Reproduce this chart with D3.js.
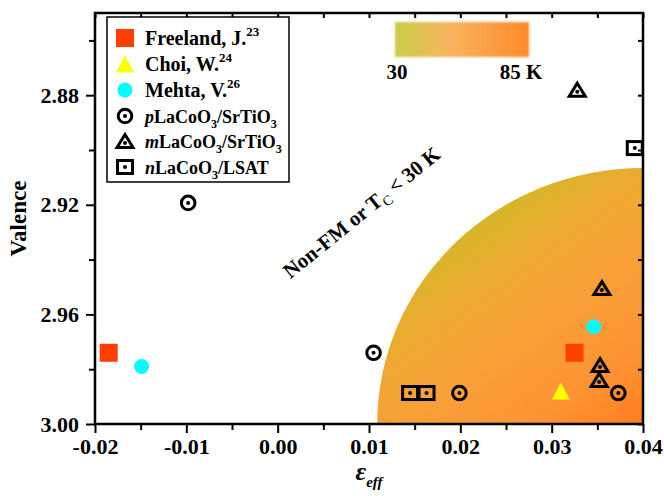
<!DOCTYPE html>
<html><head><meta charset="utf-8">
<script src="https://cdn.jsdelivr.net/npm/d3@7"></script>
<style>
body{margin:0;background:#fff;}
svg{display:block;font-family:"Liberation Serif","Times New Roman",serif;font-weight:bold;}
</style></head>
<body><svg id="c" width="664" height="496"></svg>
<script>
// ---- data ----
const freeland = [[-0.0185, 2.974], [0.0325, 2.974]];
const choi = [[0.031, 2.988]];
const mehta = [[-0.0149, 2.979], [0.0346, 2.9645]];
const pLCO = [[-0.0098, 2.9193], [0.0105, 2.974], [0.0199, 2.9887], [0.0373, 2.9887]];
const mLCO = [[0.0328, 2.878], [0.0355, 2.9504], [0.0353, 2.9785], [0.0352, 2.9839]];
const nLCO = [[0.0145, 2.9887], [0.0163, 2.9887], [0.0391, 2.8993]];
const xMajor = [-0.02, -0.01, 0.00, 0.01, 0.02, 0.03, 0.04];
const xMinor = [-0.015, -0.005, 0.005, 0.015, 0.025, 0.035];
const yMajor = [2.88, 2.92, 2.96, 3.00];
const yMinor = [2.86, 2.90, 2.94, 2.98];
const region = {x0: 0.0109, yTop: 2.9066, xc: 0.04, yc: 3.00};
const cbarLabels = ["30", "85 K"];

const svg = d3.select("#c");
const x = d3.scaleLinear().domain([-0.02, 0.04]).range([95, 643]);
const y = d3.scaleLinear().domain([2.85, 3.00]).range([13, 424]);
const fmt = d => d3.format(".2f")(d).replace("\u2212","-");

const defs = svg.append("defs");
const g1 = defs.append("linearGradient").attr("id","rg")
  .attr("x1","0.15").attr("y1","0").attr("x2","0.9").attr("y2","1");
[[0,"#c6bf22"],[0.2,"#d2b827"],[0.4,"#ecaa31"],[0.6,"#f9a038"],[0.85,"#fd9232"],[1,"#ff8020"]]
  .forEach(s=>g1.append("stop").attr("offset",s[0]).attr("stop-color",s[1]));
const g2 = defs.append("linearGradient").attr("id","cb");
[[0,"#c9cd48"],[0.4,"#f8b460"],[1,"#ff8a2a"]]
  .forEach(s=>g2.append("stop").attr("offset",s[0]).attr("stop-color",s[1]));
defs.append("filter").attr("id","bl").append("feGaussianBlur").attr("stdDeviation",1);
defs.append("clipPath").attr("id","clip").append("rect")
  .attr("x",x(-0.02)).attr("y",y(2.85)).attr("width",x(0.04)-x(-0.02)).attr("height",y(3.0)-y(2.85));

// quarter-ellipse region
const cx = x(region.xc), cy = y(region.yc);
const rx = cx - x(region.x0), ry = cy - y(region.yTop);
svg.append("g").attr("clip-path","url(#clip)").append("path")
  .attr("d",`M${cx-rx},${cy} A${rx},${ry} 0 0 1 ${cx},${cy-ry} L${cx+5},${cy-ry} L${cx+5},${cy+5} L${cx-rx},${cy+5}Z`)
  .attr("fill","url(#rg)");

// colorbar
svg.append("rect").attr("x",395).attr("y",22).attr("width",134).attr("height",35)
  .attr("fill","url(#cb)").attr("filter","url(#bl)");
svg.append("text").attr("x",397).attr("y",79).attr("text-anchor","middle").attr("font-size",21).text(cbarLabels[0]);
svg.append("text").attr("x",521).attr("y",79).attr("text-anchor","middle").attr("font-size",21).text(cbarLabels[1]);

// axes
const tk = sel => sel.call(g=>g.select(".domain").remove())
  .call(g=>g.selectAll("line").attr("stroke","#000").attr("stroke-width",2))
  .call(g=>g.selectAll("text").attr("font-family","Liberation Serif").attr("font-weight","bold").attr("font-size",22).attr("fill","#000"));
svg.append("g").attr("transform",`translate(0,${y(3.0)})`)
  .call(d3.axisBottom(x).tickValues(xMajor).tickSize(9).tickPadding(5).tickFormat(fmt)).call(tk);
svg.append("g").attr("transform",`translate(0,${y(3.0)})`)
  .call(d3.axisBottom(x).tickValues(xMinor).tickSize(6).tickFormat("")).call(tk);
svg.append("g").attr("transform",`translate(${x(-0.02)},0)`)
  .call(d3.axisLeft(y).tickValues(yMajor).tickSize(9).tickPadding(7).tickFormat(fmt)).call(tk);
svg.append("g").attr("transform",`translate(${x(-0.02)},0)`)
  .call(d3.axisLeft(y).tickValues(yMinor).tickSize(6).tickFormat("")).call(tk);
svg.append("g").attr("transform",`translate(0,${y(2.85)})`)
  .call(d3.axisBottom(x).tickValues(xMajor.concat(xMinor)).tickSize(5).tickFormat("")).call(tk);
svg.append("g").attr("transform",`translate(${x(0.04)},0)`)
  .call(d3.axisLeft(y).tickValues(yMajor.concat(yMinor)).tickSize(5).tickFormat("")).call(tk);
svg.append("rect").attr("x",x(-0.02)).attr("y",y(2.85)).attr("width",x(0.04)-x(-0.02)).attr("height",y(3.0)-y(2.85))
  .attr("fill","none").attr("stroke","#000").attr("stroke-width",2.5);

// axis titles
svg.append("text").attr("transform",`translate(26,${(y(2.85)+y(3.0))/2}) rotate(-90)`)
  .attr("text-anchor","middle").attr("font-size",23).text("Valence");
const xt = svg.append("text").attr("x",(x(-0.02)+x(0.04))/2).attr("y",480).attr("text-anchor","middle").attr("font-style","italic");
xt.append("tspan").attr("font-size",26).text("ε");
xt.append("tspan").attr("font-size",15).attr("dy",7).text("eff");

// annotation
const ann = svg.append("text").attr("transform","translate(366,218) rotate(-39)").attr("text-anchor","middle").attr("font-size",21);
ann.append("tspan").text("Non-FM or T");
ann.append("tspan").attr("font-size",14).attr("font-weight","normal").attr("dy",5).text("C");
ann.append("tspan").attr("dy",-5).text(" < 30 K");

// marker drawers
function sq(g,fill,w,h,sw){g.append("rect").attr("x",-w/2).attr("y",-h/2).attr("width",w).attr("height",h).attr("fill",fill).attr("stroke",sw?"#000":"none").attr("stroke-width",sw||0);}
function tri(g,fill,w,h,sw){g.append("path").attr("d",`M0,${-h/2}L${w/2},${h/2}L${-w/2},${h/2}Z`).attr("fill",fill).attr("stroke",sw?"#000":"none").attr("stroke-width",sw||0).attr("stroke-linejoin","miter");}
function dot(g,dy){g.append("circle").attr("cy",dy||0).attr("r",2).attr("fill","#000");}
const draw = {
  freeland: g=>sq(g,"#ff3f00",18,18),
  choi: g=>tri(g,"#ffff00",18,17),
  mehta: g=>g.append("circle").attr("r",7.5).attr("fill","#00ffff"),
  p: g=>{g.append("circle").attr("r",6.8).attr("fill","none").attr("stroke","#000").attr("stroke-width",3);dot(g);},
  m: g=>{tri(g,"none",16,13,3);dot(g,2);},
  n: g=>{sq(g,"none",15,13,3);dot(g);}
};
const series = [[freeland,"freeland"],[choi,"choi"],[mehta,"mehta"],[pLCO,"p"],[mLCO,"m"],[nLCO,"n"]];
const pts = svg.append("g");
series.forEach(([data,k])=>{
  pts.selectAll(null).data(data).join("g")
    .attr("transform",d=>`translate(${x(d[0])},${y(d[1])})`)
    .each(function(){draw[k](d3.select(this));});
});

// legend
svg.append("rect").attr("x",107).attr("y",17).attr("width",182).attr("height",165)
  .attr("fill","#fff").attr("stroke","#000").attr("stroke-width",1.5);
const legRows = [
  {k:"freeland", parts:[["Freeland, J.",20],["23",13,"sup"]]},
  {k:"choi", parts:[["Choi, W.",20],["24",13,"sup"]]},
  {k:"mehta", parts:[["Mehta, V.",20],["26",13,"sup"]]},
  {k:"p", parts:[["p",18,"it"],["LaCoO",18],["3",12,"sub"],["/SrTiO",18],["3",12,"sub"]]},
  {k:"m", parts:[["m",18,"it"],["LaCoO",18],["3",12,"sub"],["/SrTiO",18],["3",12,"sub"]]},
  {k:"n", parts:[["n",18,"it"],["LaCoO",18],["3",12,"sub"],["/LSAT",18]]}
];
const rowY = [38, 64, 90, 116, 141, 167];
legRows.forEach((r,i)=>{
  const g = svg.append("g").attr("transform",`translate(125,${rowY[i]})`);
  draw[r.k](g);
  const t = svg.append("text").attr("x",145).attr("y",rowY[i]+7);
  let cur = 0;
  r.parts.forEach(p=>{
    const s = t.append("tspan").attr("font-size",p[1]).text(p[0]);
    let off = p[2]==="sup" ? -9 : p[2]==="sub" ? 5 : 0;
    s.attr("dy", off - cur); cur = off;
    if(p[2]==="it") s.attr("font-style","italic");
  });
});
</script></body></html>
